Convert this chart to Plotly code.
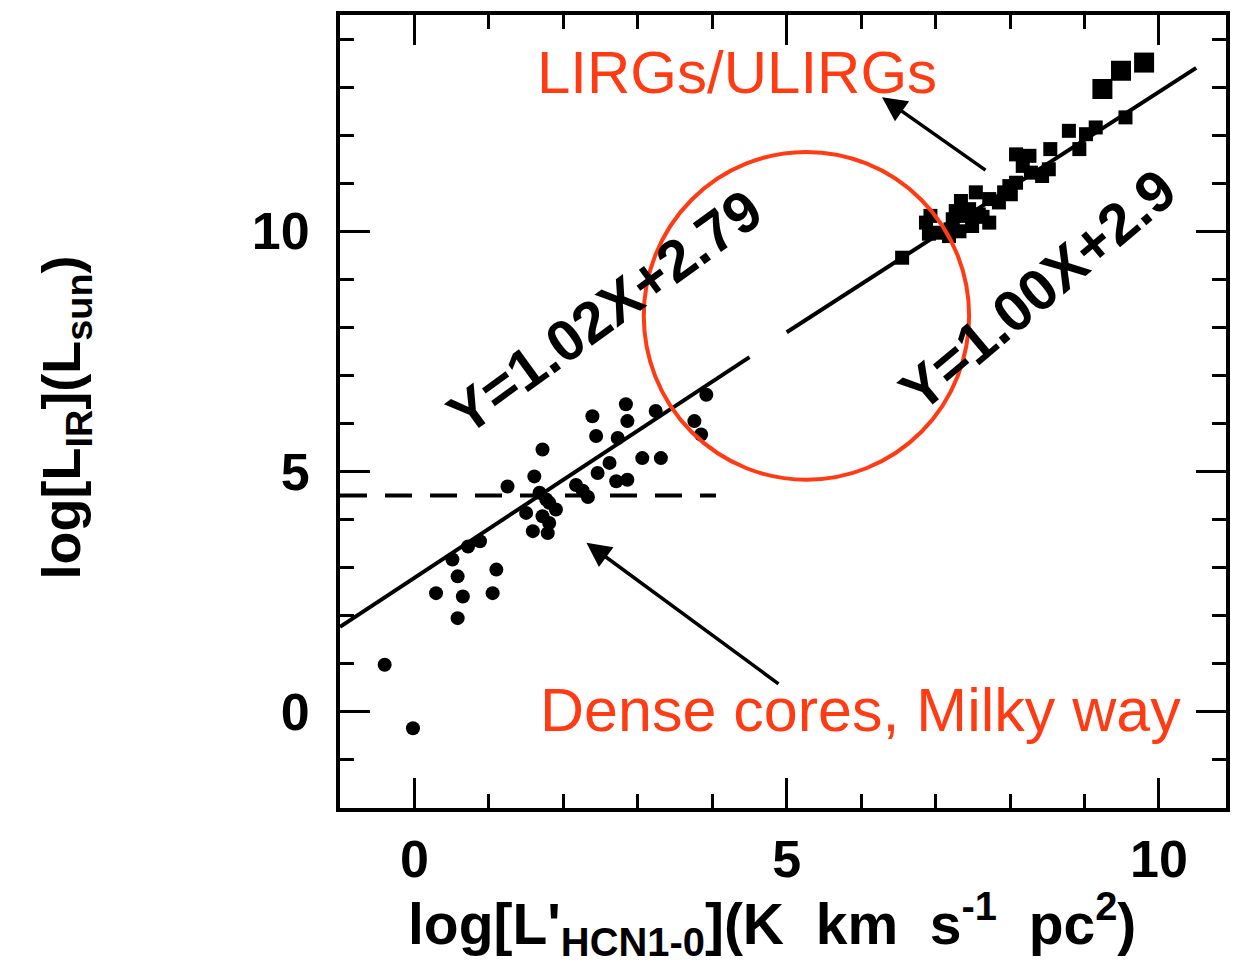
import plotly.graph_objects as go

# Dense cores in the Milky Way: log L'HCN vs log L_IR
core_x = [-0.40, -0.02, 0.58, 0.29, 0.65, 1.05, 0.58, 1.10, 0.51, 0.72, 0.88,
          1.25, 1.72, 1.61, 1.50, 1.59, 1.79, 1.68, 1.77, 1.90, 1.81, 1.72, 1.81,
          2.17, 2.26, 2.33, 2.39, 2.84, 2.86, 2.44, 2.73, 3.24, 2.62, 2.46, 3.06,
          3.31, 2.71, 2.86, 3.92, 3.76, 3.85]
core_y = [0.98, -0.34, 1.95, 2.47, 2.40, 2.47, 2.82, 2.96, 3.17, 3.44, 3.55,
          4.69, 5.46, 4.90, 4.14, 3.76, 3.72, 4.56, 4.42, 4.21, 3.93, 4.07, 4.35,
          4.72, 4.60, 4.47, 6.15, 6.40, 6.05, 5.74, 5.70, 6.26, 5.18, 4.97, 5.28,
          5.28, 4.80, 4.83, 6.60, 6.05, 5.77]

# Galaxies (normal spirals, LIRGs)
gal_x = [6.55, 6.87, 6.93, 6.91, 7.02, 7.18, 7.20, 7.23, 7.27, 7.32, 7.34, 7.41,
         7.45, 7.49, 7.54, 7.58, 7.63, 7.72, 7.72, 7.85, 7.92, 8.01, 7.99, 8.08,
         8.08, 8.17, 8.26, 8.28, 8.43, 8.52, 8.54, 8.79, 8.93, 9.02, 9.15, 9.55]
gal_y = [9.45, 10.18, 10.32, 9.95, 9.97, 9.90, 10.04, 10.25, 10.42, 10.00, 10.63,
         10.32, 10.46, 10.11, 10.81, 10.35, 10.30, 10.67, 10.18, 10.60, 10.81,
         10.77, 10.94, 11.01, 11.60, 11.36, 11.57, 11.22, 11.15, 11.29, 11.71,
         12.09, 11.71, 12.02, 12.16, 12.37]

# ULIRGs
ulirg_x = [9.24, 9.49, 9.80]
ulirg_y = [12.96, 13.34, 13.51]

# Fits: Y = slope * X + intercept over their X ranges
fit_cores = dict(slope=1.02, intercept=2.79, x_range=[-1.0, 4.5])
fit_gal = dict(slope=1.00, intercept=2.9, x_range=[5.0, 10.5])
threshold_y = 4.5
threshold_x = [-1.0, 4.05]

x_ticks = [0, 5, 10]
y_ticks = [0, 5, 10]

RED = "#FF3B14"
FONT = "Liberation Sans, Arial, sans-serif"

fig = go.Figure()

for fit in (fit_cores, fit_gal):
    xs = fit["x_range"]
    ys = [fit["slope"] * v + fit["intercept"] for v in xs]
    fig.add_trace(go.Scatter(x=xs, y=ys, mode="lines",
                             line=dict(color="black", width=4), showlegend=False))

fig.add_trace(go.Scatter(x=threshold_x, y=[threshold_y, threshold_y], mode="lines",
                         line=dict(color="black", width=4, dash="27px,18px"),
                         showlegend=False))

fig.add_trace(go.Scatter(x=core_x, y=core_y, mode="markers",
                         marker=dict(symbol="circle", size=14, color="black"),
                         showlegend=False))
fig.add_trace(go.Scatter(x=gal_x, y=gal_y, mode="markers",
                         marker=dict(symbol="square", size=14, color="black"),
                         showlegend=False))
fig.add_trace(go.Scatter(x=ulirg_x, y=ulirg_y, mode="markers",
                         marker=dict(symbol="square", size=20, color="black"),
                         showlegend=False))

# highlighted gap between the two populations
fig.add_shape(type="circle", xref="x", yref="y", x0=3.08, x1=7.45, y0=4.83, y1=11.65,
              line=dict(color=RED, width=4))

axis_common = dict(
    showgrid=False, zeroline=False, showline=True, linecolor="black", linewidth=4,
    mirror="ticks", ticks="inside", ticklen=30, tickwidth=3, tickcolor="black",
    tickfont=dict(family=FONT, size=52, color="black", weight="bold"),
    minor=dict(ticks="inside", ticklen=14, tickwidth=3, tickcolor="black", dtick=1),
)

fig.update_xaxes(range=[-1.0, 10.9], tickmode="array", tickvals=x_ticks,
                 ticklabelstandoff=3, **axis_common)
fig.update_yaxes(range=[-2.0, 14.5], tickmode="array", tickvals=y_ticks,
                 ticklabelstandoff=16, **axis_common)

center = dict(xanchor="center", yanchor="middle", showarrow=False)

annotations = [
    dict(text="LIRGs/ULIRGs", x=0.448, y=0.927, xref="paper", yref="paper",
         font=dict(family=FONT, size=60, color=RED), **center),
    dict(text="Dense cores, Milky way", x=0.588, y=0.124, xref="paper", yref="paper",
         font=dict(family=FONT, size=61, color=RED), **center),
    dict(text="Y=1.02X+2.79", x=2.55, y=8.33, xref="x", yref="y",
         textangle=-36, font=dict(family=FONT, size=58, color="black", weight="bold"),
         **center),
    dict(text="Y=1.00X+2.9", x=8.37, y=8.79, xref="x", yref="y",
         textangle=-40, font=dict(family=FONT, size=58, color="black", weight="bold"),
         **center),
    # arrows pointing at the two populations
    dict(x=6.28, y=12.79, ax=7.69, ay=11.25, xref="x", yref="y", axref="x", ayref="y",
         text="", showarrow=True, arrowhead=2, arrowsize=1.4, arrowwidth=3.5,
         arrowcolor="black"),
    dict(x=2.31, y=3.52, ax=4.91, ay=0.56, xref="x", yref="y", axref="x", ayref="y",
         text="", showarrow=True, arrowhead=2, arrowsize=1.4, arrowwidth=3.5,
         arrowcolor="black"),
    # axis titles
    dict(text="log[L<sub>IR</sub>](L<sub>sun</sub>)", x=-0.31, y=0.493,
         xref="paper", yref="paper", textangle=-90,
         font=dict(family=FONT, size=54, color="black", weight="bold"), **center),
    dict(text="log[L'<sub>HCN1-0</sub>](K  km  s<sup>-1</sup>  pc<sup>2</sup>)",
         x=0.488, y=-0.146, xref="paper", yref="paper",
         font=dict(family=FONT, size=57, color="black", weight="bold"), **center),
]

fig.update_layout(
    width=1246, height=966,
    margin=dict(l=340, r=20, t=15, b=158),
    paper_bgcolor="white", plot_bgcolor="white",
    annotations=annotations,
    showlegend=False,
)

fig.write_html("out.html")
